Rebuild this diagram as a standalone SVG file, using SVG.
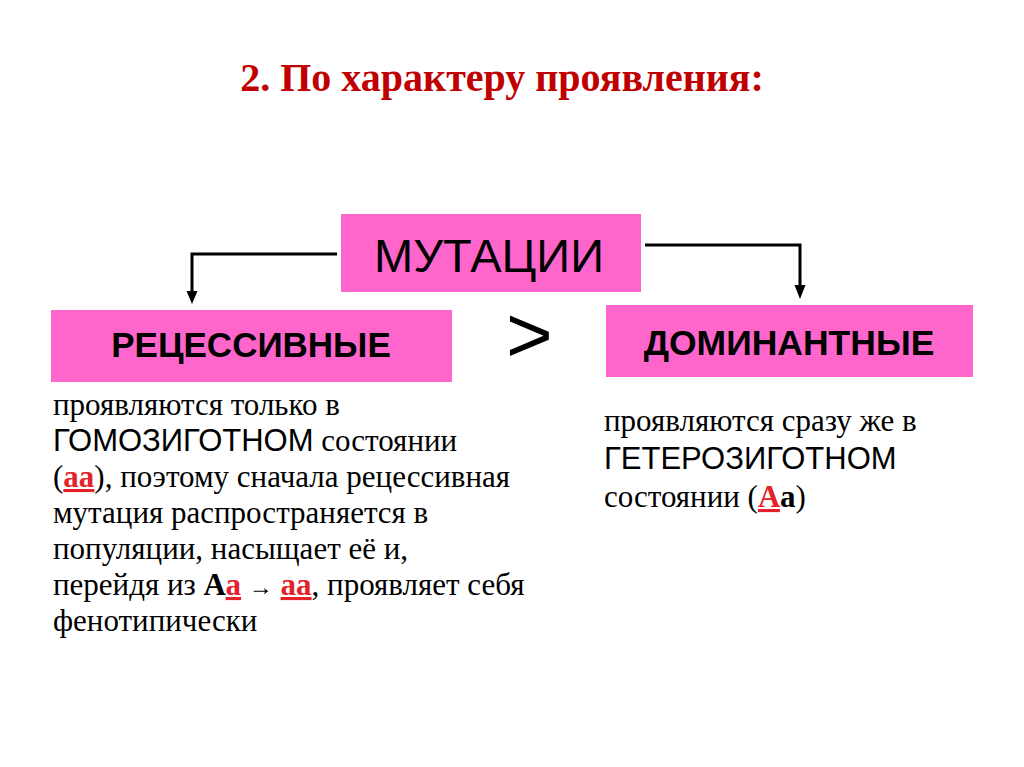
<svg xmlns="http://www.w3.org/2000/svg" width="1024" height="767" viewBox="0 0 1024 767">
<style>
.box{fill:#FF66CC}
.sans{font-family:"Liberation Sans",Arial,sans-serif;fill:#000}
.serif{font-family:"Liberation Serif","Times New Roman",serif;fill:#000;font-size:31px}
.caps{font-family:"Liberation Sans",Arial,sans-serif;font-size:31px}
.red{fill:#E3222A;font-weight:bold;text-decoration:underline}
.bk{font-weight:bold}
.conn{fill:none;stroke:#000;stroke-width:3}
.head{fill:#000}
</style>
<rect width="1024" height="767" fill="#fff"/>
<text id="title" x="502" y="91" text-anchor="middle" style="font-family:'Liberation Serif','Times New Roman',serif;font-weight:bold;font-size:40px;fill:#C00000">2. По характеру проявления:</text>
<g id="connectors">
<path class="conn" d="M337,254 H192 V292"/>
<path class="head" d="M186.5,291 L197.5,291 L192,304 Z"/>
<path class="conn" d="M645,245 H800 V286"/>
<path class="head" d="M794.5,285 L805.5,285 L800,299 Z"/>
</g>
<g id="mutacii">
<rect class="box" x="341" y="214" width="300" height="78"/>
<text class="sans" x="489" y="272" text-anchor="middle" font-size="47">МУТАЦИИ</text>
</g>
<g id="recessive">
<rect class="box" x="51" y="310" width="401" height="72"/>
<text class="sans" x="251" y="357" text-anchor="middle" font-size="35" font-weight="bold">РЕЦЕССИВНЫЕ</text>
</g>
<g id="dominant">
<rect class="box" x="606" y="305" width="367" height="72"/>
<text class="sans" x="789" y="355" text-anchor="middle" font-size="35.5" font-weight="bold">ДОМИНАНТНЫЕ</text>
</g>
<g id="gt">
<text class="sans" x="506" y="362" font-size="80">&gt;</text>
</g>
<g id="recessive-text">
<text class="serif" x="53" y="415">проявляются только в</text>
<text class="serif" x="53" y="451"><tspan class="caps">ГОМОЗИГОТНОМ</tspan> состоянии</text>
<text class="serif" x="53" y="487">(<tspan class="red">аа</tspan>), поэтому сначала рецессивная</text>
<text class="serif" x="53" y="523">мутация распространяется в</text>
<text class="serif" x="53" y="559">популяции, насыщает её и,</text>
<text class="serif" x="53" y="595">перейдя из <tspan class="bk">А</tspan><tspan class="red">а</tspan> <tspan font-size="24">→</tspan>  <tspan class="red">аа</tspan>, проявляет себя</text>
<text class="serif" x="53" y="631">фенотипически</text>
</g>
<g id="dominant-text">
<text class="serif" x="604" y="431">проявляются сразу же в</text>
<text class="serif" x="604" y="469"><tspan class="caps">ГЕТЕРОЗИГОТНОМ</tspan></text>
<text class="serif" x="604" y="507">состоянии (<tspan class="red">А</tspan><tspan class="bk">а</tspan>)</text>
</g>
</svg>
